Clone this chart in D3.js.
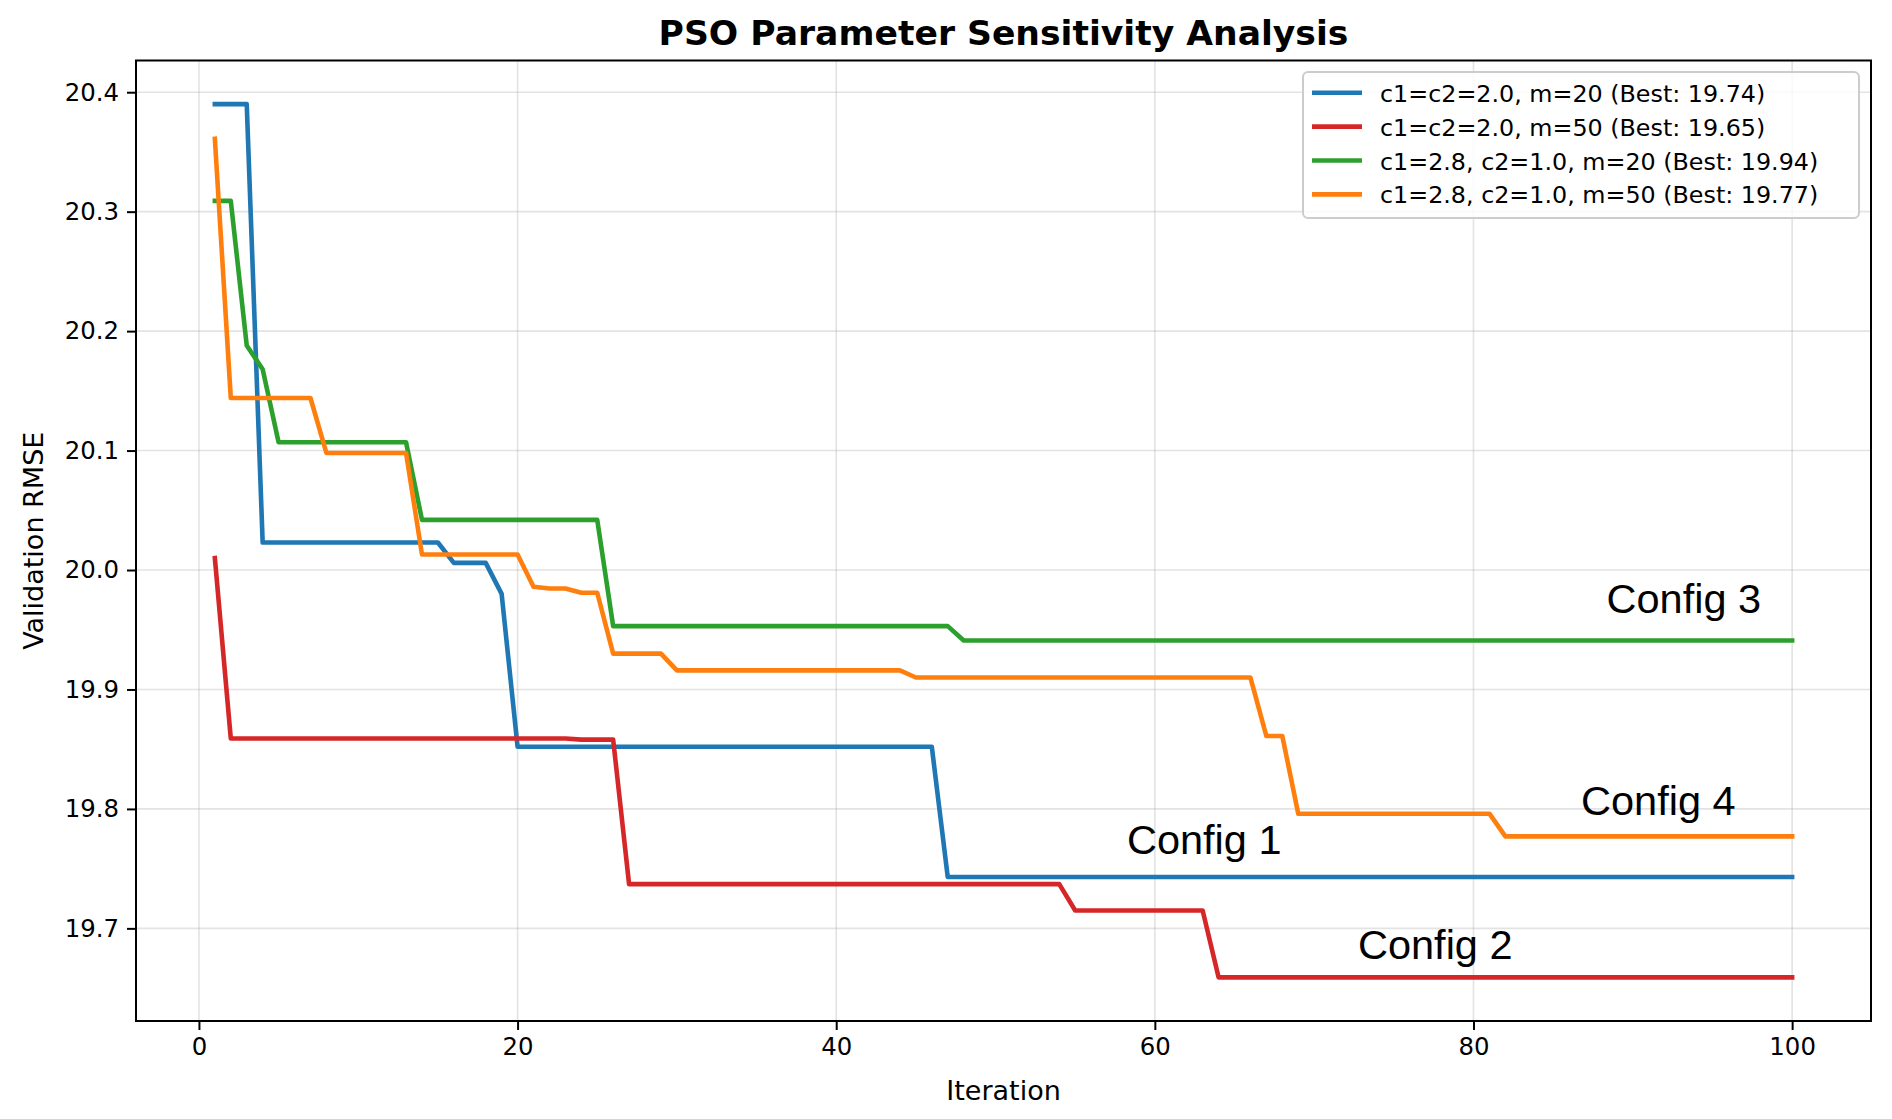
<!DOCTYPE html>
<html>
<head>
<meta charset="utf-8">
<script src="https://cdn.jsdelivr.net/npm/d3@7"></script>
<style>
  body { margin: 0; background: #fff; }
  svg { display: block; }
</style>
</head>
<body>
<svg id="chart" width="1892" height="1119"></svg>
<script>
// Iterations 1..100
const iterations = d3.range(1, 101);

// Config 1: c1=c2=2.0, m=20
const config1 = [
  20.390, 20.390, 20.390, 20.023, 20.023, 20.023, 20.023, 20.023, 20.023, 20.023,
  20.023, 20.023, 20.023, 20.023, 20.023, 20.006, 20.006, 20.006, 19.980, 19.852,
  19.852, 19.852, 19.852, 19.852, 19.852, 19.852, 19.852, 19.852, 19.852, 19.852,
  19.852, 19.852, 19.852, 19.852, 19.852, 19.852, 19.852, 19.852, 19.852, 19.852,
  19.852, 19.852, 19.852, 19.852, 19.852, 19.852, 19.743, 19.743, 19.743, 19.743,
  19.743, 19.743, 19.743, 19.743, 19.743, 19.743, 19.743, 19.743, 19.743, 19.743,
  19.743, 19.743, 19.743, 19.743, 19.743, 19.743, 19.743, 19.743, 19.743, 19.743,
  19.743, 19.743, 19.743, 19.743, 19.743, 19.743, 19.743, 19.743, 19.743, 19.743,
  19.743, 19.743, 19.743, 19.743, 19.743, 19.743, 19.743, 19.743, 19.743, 19.743,
  19.743, 19.743, 19.743, 19.743, 19.743, 19.743, 19.743, 19.743, 19.743, 19.743
];

// Config 2: c1=c2=2.0, m=50
const config2 = [
  20.010, 19.859, 19.859, 19.859, 19.859, 19.859, 19.859, 19.859, 19.859, 19.859,
  19.859, 19.859, 19.859, 19.859, 19.859, 19.859, 19.859, 19.859, 19.859, 19.859,
  19.859, 19.859, 19.859, 19.858, 19.858, 19.858, 19.737, 19.737, 19.737, 19.737,
  19.737, 19.737, 19.737, 19.737, 19.737, 19.737, 19.737, 19.737, 19.737, 19.737,
  19.737, 19.737, 19.737, 19.737, 19.737, 19.737, 19.737, 19.737, 19.737, 19.737,
  19.737, 19.737, 19.737, 19.737, 19.715, 19.715, 19.715, 19.715, 19.715, 19.715,
  19.715, 19.715, 19.715, 19.659, 19.659, 19.659, 19.659, 19.659, 19.659, 19.659,
  19.659, 19.659, 19.659, 19.659, 19.659, 19.659, 19.659, 19.659, 19.659, 19.659,
  19.659, 19.659, 19.659, 19.659, 19.659, 19.659, 19.659, 19.659, 19.659, 19.659,
  19.659, 19.659, 19.659, 19.659, 19.659, 19.659, 19.659, 19.659, 19.659, 19.659
];

// Config 3: c1=2.8, c2=1.0, m=20
const config3 = [
  20.309, 20.309, 20.188, 20.168, 20.107, 20.107, 20.107, 20.107, 20.107, 20.107,
  20.107, 20.107, 20.107, 20.042, 20.042, 20.042, 20.042, 20.042, 20.042, 20.042,
  20.042, 20.042, 20.042, 20.042, 20.042, 19.953, 19.953, 19.953, 19.953, 19.953,
  19.953, 19.953, 19.953, 19.953, 19.953, 19.953, 19.953, 19.953, 19.953, 19.953,
  19.953, 19.953, 19.953, 19.953, 19.953, 19.953, 19.953, 19.941, 19.941, 19.941,
  19.941, 19.941, 19.941, 19.941, 19.941, 19.941, 19.941, 19.941, 19.941, 19.941,
  19.941, 19.941, 19.941, 19.941, 19.941, 19.941, 19.941, 19.941, 19.941, 19.941,
  19.941, 19.941, 19.941, 19.941, 19.941, 19.941, 19.941, 19.941, 19.941, 19.941,
  19.941, 19.941, 19.941, 19.941, 19.941, 19.941, 19.941, 19.941, 19.941, 19.941,
  19.941, 19.941, 19.941, 19.941, 19.941, 19.941, 19.941, 19.941, 19.941, 19.941
];

// Config 4: c1=2.8, c2=1.0, m=50
const config4 = [
  20.361, 20.144, 20.144, 20.144, 20.144, 20.144, 20.144, 20.098, 20.098, 20.098,
  20.098, 20.098, 20.098, 20.013, 20.013, 20.013, 20.013, 20.013, 20.013, 20.013,
  19.986, 19.9845, 19.9845, 19.981, 19.981, 19.930, 19.930, 19.930, 19.930, 19.916,
  19.916, 19.916, 19.916, 19.916, 19.916, 19.916, 19.916, 19.916, 19.916, 19.916,
  19.916, 19.916, 19.916, 19.916, 19.910, 19.910, 19.910, 19.910, 19.910, 19.910,
  19.910, 19.910, 19.910, 19.910, 19.910, 19.910, 19.910, 19.910, 19.910, 19.910,
  19.910, 19.910, 19.910, 19.910, 19.910, 19.910, 19.861, 19.861, 19.796, 19.796,
  19.796, 19.796, 19.796, 19.796, 19.796, 19.796, 19.796, 19.796, 19.796, 19.796,
  19.796, 19.777, 19.777, 19.777, 19.777, 19.777, 19.777, 19.777, 19.777, 19.777,
  19.777, 19.777, 19.777, 19.777, 19.777, 19.777, 19.777, 19.777, 19.777, 19.777
];

const legendLabels = [
  'c1=c2=2.0, m=20 (Best: 19.74)',
  'c1=c2=2.0, m=50 (Best: 19.65)',
  'c1=2.8, c2=1.0, m=20 (Best: 19.94)',
  'c1=2.8, c2=1.0, m=50 (Best: 19.77)'
];
const configNames = ['Config 1', 'Config 2', 'Config 3', 'Config 4'];
const xTicks = [0, 20, 40, 60, 80, 100];
const yTicks = [19.7, 19.8, 19.9, 20.0, 20.1, 20.2, 20.3, 20.4];

const colors = ['#1f77b4', '#d62728', '#2ca02c', '#ff7f0e'];
const allSeries = [config1, config2, config3, config4];

// Plot area box (matplotlib-like)
const svg = d3.select('#chart');
const plotLeft = 136, plotRight = 1871, plotTop = 60.5, plotBottom = 1021;

// Scales with 5% margins like matplotlib
const xMin = d3.min(iterations), xMax = d3.max(iterations);
const xPad = (xMax - xMin) * 0.05;
const x = d3.scaleLinear().domain([xMin - xPad, xMax + xPad]).range([plotLeft, plotRight]);

const yMin = d3.min(allSeries.flat()), yMax = d3.max(allSeries.flat());
const yPad = (yMax - yMin) * 0.05;
const y = d3.scaleLinear().domain([yMin - yPad, yMax + yPad]).range([plotBottom, plotTop]);

const tickFont = 'DejaVu Sans, sans-serif';

// Grid lines
svg.append('g')
  .selectAll('line')
  .data(xTicks)
  .join('line')
    .attr('x1', d => x(d)).attr('x2', d => x(d))
    .attr('y1', plotTop).attr('y2', plotBottom)
    .style('stroke', '#b0b0b0').style('stroke-opacity', 0.35).style('stroke-width', 1.6);
svg.append('g')
  .selectAll('line')
  .data(yTicks)
  .join('line')
    .attr('x1', plotLeft).attr('x2', plotRight)
    .attr('y1', d => y(d)).attr('y2', d => y(d))
    .style('stroke', '#b0b0b0').style('stroke-opacity', 0.35).style('stroke-width', 1.6);

// Lines
const line = d3.line()
  .x((d, i) => x(iterations[i]))
  .y(d => y(d));

svg.append('g')
  .selectAll('path')
  .data(allSeries)
  .join('path')
    .attr('d', d => line(d))
    .style('fill', 'none')
    .style('stroke', (d, i) => colors[i])
    .style('stroke-width', 4.6)
    .style('stroke-linejoin', 'round')
    .style('stroke-linecap', 'square');

// Axes
const xAxis = d3.axisBottom(x).tickValues(xTicks).tickFormat(d3.format('d')).tickSize(9).tickPadding(8);
const yAxis = d3.axisLeft(y).tickValues(yTicks).tickFormat(d3.format('.1f')).tickSize(9).tickPadding(8);

const gx = svg.append('g').attr('transform', `translate(0,${plotBottom})`).call(xAxis);
const gy = svg.append('g').attr('transform', `translate(${plotLeft},0)`).call(yAxis);
[gx, gy].forEach(g => {
  g.select('.domain').remove();
  g.selectAll('.tick line').style('stroke', '#000').style('stroke-width', 2);
  g.selectAll('.tick text').style('font-family', tickFont).style('font-size', '24.4px').style('fill', '#000');
});

// Frame (spines)
svg.append('rect')
  .attr('x', plotLeft).attr('y', plotTop)
  .attr('width', plotRight - plotLeft).attr('height', plotBottom - plotTop)
  .style('fill', 'none').style('stroke', '#000').style('stroke-width', 2);

// Config annotations (placed in data coordinates)
const labelSpots = [[63.1, 19.762], [77.6, 19.6745], [93.2, 19.964], [91.6, 19.795]];
svg.append('g')
  .selectAll('text')
  .data(configNames)
  .join('text')
    .attr('x', (d, i) => x(labelSpots[i][0]))
    .attr('y', (d, i) => y(labelSpots[i][1]))
    .attr('text-anchor', 'middle')
    .style('font-family', 'Liberation Sans, Arial, sans-serif')
    .style('font-size', '41.5px')
    .style('fill', '#000')
    .text(d => d);

// Legend
const legend = svg.append('g');
legend.append('rect')
  .attr('x', 1303).attr('y', 72).attr('width', 556).attr('height', 146)
  .attr('rx', 5)
  .style('fill', '#fff').style('fill-opacity', 0.8)
  .style('stroke', '#cccccc').style('stroke-width', 2);
legendLabels.forEach((lab, i) => {
  const base = 101.7 + i * 33.9;
  legend.append('line')
    .attr('x1', 1312).attr('x2', 1362)
    .attr('y1', base - 9).attr('y2', base - 9)
    .style('stroke', colors[i]).style('stroke-width', 4.6);
  legend.append('text')
    .attr('x', 1380).attr('y', base)
    .style('font-family', tickFont).style('font-size', '23.8px').style('fill', '#000')
    .text(lab);
});

// Axis labels and title
svg.append('text')
  .attr('x', (plotLeft + plotRight) / 2).attr('y', 1100)
  .attr('text-anchor', 'middle')
  .style('font-family', tickFont).style('font-size', '27px')
  .text('Iteration');

svg.append('text')
  .attr('transform', `translate(43,${(plotTop + plotBottom) / 2}) rotate(-90)`)
  .attr('text-anchor', 'middle')
  .style('font-family', tickFont).style('font-size', '27px')
  .text('Validation RMSE');

svg.append('text')
  .attr('x', (plotLeft + plotRight) / 2).attr('y', 44.5)
  .attr('text-anchor', 'middle')
  .style('font-family', tickFont).style('font-size', '34.6px').style('font-weight', 'bold')
  .text('PSO Parameter Sensitivity Analysis');
</script>
</body>
</html>
